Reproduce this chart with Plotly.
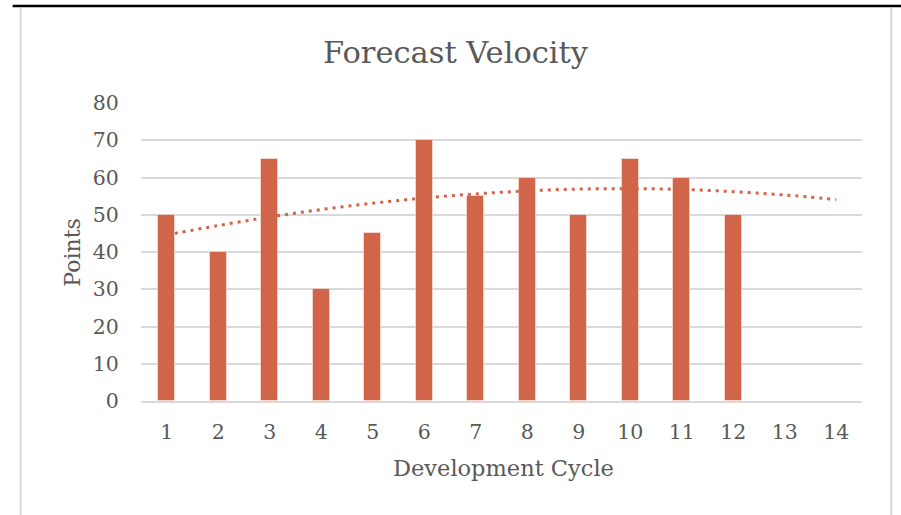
import plotly.graph_objects as go

cycles = list(range(1, 15))
bar_cycles = list(range(1, 13))
points = [50, 40, 65, 30, 45, 70, 55, 60, 50, 65, 60, 50]
trend = [44.6, 47.1, 49.4, 51.4, 53.1, 54.5, 55.6, 56.4, 56.9, 57.0, 56.8, 56.2, 55.3, 54.1]
y_ticks = [0, 10, 20, 30, 40, 50, 60, 70, 80]

BAR = "#D06549"
TXT = "#595959"
FONT = "DejaVu Serif"

fig = go.Figure()
fig.add_trace(go.Scatter(
    x=cycles, y=trend, mode="lines", line=dict(color=BAR, width=3, dash="3px,5px", shape="spline"),
    hoverinfo="skip", showlegend=False))
fig.add_trace(go.Bar(
    x=bar_cycles, y=points, width=0.33, marker=dict(color=BAR, line=dict(color="rgba(255,255,255,0.45)", width=1)),
    showlegend=False))

L, R, T, B = 141.3, 861.8, 103, 401
W, H = 901, 515
def px(x):
    return (x - L) / (R - L)
def py(y):
    return (B - y) / (B - T)

fig.update_layout(
    width=W, height=H,
    margin=dict(l=L, r=W - R, t=T, b=H - B, pad=0),
    paper_bgcolor="white", plot_bgcolor="white",
    font=dict(family=FONT, color=TXT, size=20),
    bargap=0,
    xaxis=dict(range=[0.5, 14.5], tickmode="array", tickvals=cycles, ticktext=[str(c) for c in cycles],
               showgrid=False, zeroline=False, showline=True, linecolor="#D9D9D9", linewidth=1.5,
               ticks="outside", ticklen=12, tickcolor="rgba(0,0,0,0)",
               tickfont=dict(size=20.5, color=TXT, family=FONT), fixedrange=True),
    yaxis=dict(range=[0, 80], tickmode="array", tickvals=y_ticks, ticktext=[str(v) for v in y_ticks],
               showgrid=True, gridcolor="#D9D9D9", gridwidth=1.5, zeroline=False,
               ticks="outside", ticklen=17, tickcolor="rgba(0,0,0,0)",
               tickfont=dict(size=20.5, color=TXT, family=FONT), fixedrange=True),
    annotations=[
        dict(text="Forecast Velocity", x=px(456), y=py(52), xref="paper", yref="paper",
             showarrow=False, font=dict(size=30.5, color=TXT, family=FONT), xanchor="center", yanchor="middle"),
        dict(text="Development Cycle", x=px(504), y=py(468), xref="paper", yref="paper",
             showarrow=False, font=dict(size=22.5, color=TXT, family=FONT), xanchor="center", yanchor="middle"),
        dict(text="Points", x=px(72), y=py(252), xref="paper", yref="paper", textangle=-90,
             showarrow=False, font=dict(size=22, color=TXT, family=FONT), xanchor="center", yanchor="middle"),
    ],
    shapes=[
        dict(type="line", xref="paper", yref="paper", x0=px(13), x1=px(901), y0=py(6), y1=py(6),
             line=dict(color="black", width=2.5)),
        dict(type="line", xref="paper", yref="paper", x0=px(21), x1=px(21), y0=py(7.5), y1=py(516),
             line=dict(color="#D9D9D9", width=2)),
        dict(type="line", xref="paper", yref="paper", x0=px(891), x1=px(891), y0=py(7.5), y1=py(516),
             line=dict(color="#D9D9D9", width=2)),
    ],
)

fig.write_html("out.html", config={"displayModeBar": False},
               post_script="document.body.style.margin='0';document.body.style.overflow='hidden';")
